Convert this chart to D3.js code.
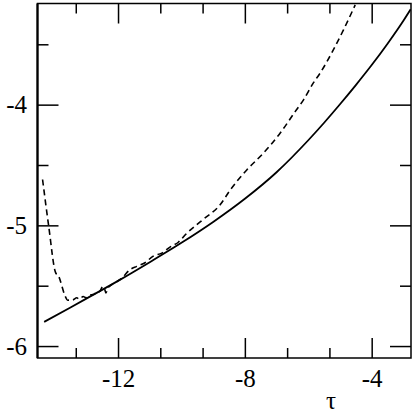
<!DOCTYPE html>
<html>
<head>
<meta charset="utf-8">
<script src="https://cdn.jsdelivr.net/npm/d3@7"></script>
<style>
  body { margin: 0; background: #fff; }
  svg { display: block; }
</style>
</head>
<body>
<div id="vis"></div>
<script>
// values
const SOLID_TAU = [-14.33, -13.5, -13.0, -12.0, -11.0, -10.0, -9.0, -8.0, -7.0, -6.0, -5.5, -5.0, -4.5, -4.0, -3.5, -3.0, -2.77];
const SOLID_VAL = [-5.80, -5.68, -5.607, -5.46, -5.305, -5.145, -4.972, -4.78, -4.56, -4.295, -4.15, -3.997, -3.838, -3.672, -3.495, -3.305, -3.21];

const DASH_TAU = [-14.38, -14.19, -13.96, -13.90, -13.66, -13.59, -13.43, -13.30, -13.22, -13.10, -13.01, -12.85, -12.75, -12.65, -12.59, -12.48, -12.42, -12.38, -12.33, -12.27, -12.06, -11.85, -11.64, -11.41, -11.15, -10.89, -10.62, -10.36, -10.1, -9.83, -9.31, -8.78, -8.47, -7.94, -7.42, -6.89, -6.42, -6.15, -5.84, -5.63, -5.21, -4.89, -4.52];
const DASH_VAL = [-4.62, -5.0, -5.397, -5.41, -5.59, -5.62, -5.618, -5.60, -5.612, -5.59, -5.60, -5.575, -5.57, -5.545, -5.55, -5.508, -5.53, -5.56, -5.52, -5.505, -5.47, -5.43, -5.37, -5.34, -5.31, -5.255, -5.23, -5.18, -5.14, -5.065, -4.95, -4.83, -4.71, -4.541, -4.403, -4.237, -4.06, -3.96, -3.82, -3.74, -3.547, -3.381, -3.174];

const X_MAJOR = [-12, -8, -4];
const X_MINOR = [-13.333, -10.667, -9.333, -6.667, -5.333];
const Y_MAJOR = [-6, -5, -4];
const Y_MINOR = [-5.5, -4.5, -3.5];
const X_LABEL = "τ";

const FONT = '"Liberation Serif"';
const FRAME_WIDTH = 415;
const FRAME_HEIGHT = 415;
const MARGINS = { left: 37.5, right: 4, top: 3.5, bottom: 57 };
const VIS_WIDTH = FRAME_WIDTH - MARGINS.left - MARGINS.right;
const VIS_HEIGHT = FRAME_HEIGHT - MARGINS.top - MARGINS.bottom;

const FRAME = d3.select('#vis')
  .append('svg')
  .attr('width', FRAME_WIDTH)
  .attr('height', FRAME_HEIGHT);

const X_SCALE = d3.scaleLinear().domain([-14.54, -2.76]).range([0, VIS_WIDTH]);
const Y_SCALE = d3.scaleLinear().domain([-6.099, -3.162]).range([VIS_HEIGHT, 0]);

const G = FRAME.append('g')
  .attr('transform', `translate(${MARGINS.left},${MARGINS.top})`);

G.append('clipPath').attr('id', 'clip')
  .append('rect').attr('width', VIS_WIDTH).attr('height', VIS_HEIGHT);

// curves
const solid = SOLID_TAU.map((t, i) => [t, SOLID_VAL[i]]);
const dashed = DASH_TAU.map((t, i) => [t, DASH_VAL[i]]);

G.append('path')
  .datum(solid)
  .attr('clip-path', 'url(#clip)')
  .attr('fill', 'none')
  .attr('stroke', '#000')
  .attr('stroke-width', 1.8)
  .attr('d', d3.line().x(d => X_SCALE(d[0])).y(d => Y_SCALE(d[1])).curve(d3.curveMonotoneX));

G.append('path')
  .datum(dashed)
  .attr('clip-path', 'url(#clip)')
  .attr('fill', 'none')
  .attr('stroke', '#000')
  .attr('stroke-width', 1.6)
  .attr('stroke-dasharray', '6,4')
  .attr('d', d3.line().x(d => X_SCALE(d[0])).y(d => Y_SCALE(d[1])).curve(d3.curveMonotoneX));

// axes, ticks point inwards
function addAxis(axis, ticks, size, transform, labels) {
  const g = G.append('g')
    .attr('transform', transform)
    .call(axis.tickValues(ticks).tickSizeInner(-size).tickSizeOuter(0));
  g.select('.domain').remove();
  g.selectAll('.tick line').attr('stroke', '#000').attr('stroke-width', 1.5);
  g.selectAll('.tick text')
    .attr('fill', '#000')
    .attr('font-family', FONT)
    .attr('font-size', 25)
    .text(d => labels ? String(d) : '');
  return g;
}

addAxis(d3.axisBottom(X_SCALE).tickPadding(11), X_MAJOR, 20, `translate(0,${VIS_HEIGHT})`, true);
addAxis(d3.axisBottom(X_SCALE), X_MINOR, 10, `translate(0,${VIS_HEIGHT})`, false);
addAxis(d3.axisTop(X_SCALE), X_MAJOR, 20, 'translate(0,0)', false);
addAxis(d3.axisTop(X_SCALE), X_MINOR, 10, 'translate(0,0)', false);
addAxis(d3.axisLeft(Y_SCALE).tickPadding(10.5), Y_MAJOR, 21, 'translate(0,0)', true);
addAxis(d3.axisLeft(Y_SCALE), Y_MINOR, 11, 'translate(0,0)', false);
addAxis(d3.axisRight(Y_SCALE), Y_MAJOR, 21, `translate(${VIS_WIDTH},0)`, false);
addAxis(d3.axisRight(Y_SCALE), Y_MINOR, 11, `translate(${VIS_WIDTH},0)`, false);

// frame
G.append('rect')
  .attr('width', VIS_WIDTH)
  .attr('height', VIS_HEIGHT)
  .attr('fill', 'none')
  .attr('stroke', '#000')
  .attr('stroke-width', 1.5);
G.append('line')
  .attr('x1', 0).attr('x2', 0)
  .attr('y1', 0).attr('y2', VIS_HEIGHT)
  .attr('stroke', '#000')
  .attr('stroke-width', 2.2);

FRAME.append('text')
  .attr('x', 331)
  .attr('y', 409)
  .attr('text-anchor', 'middle')
  .attr('font-family', FONT)
  .attr('font-size', 25)
  .text(X_LABEL);
</script>
</body>
</html>
